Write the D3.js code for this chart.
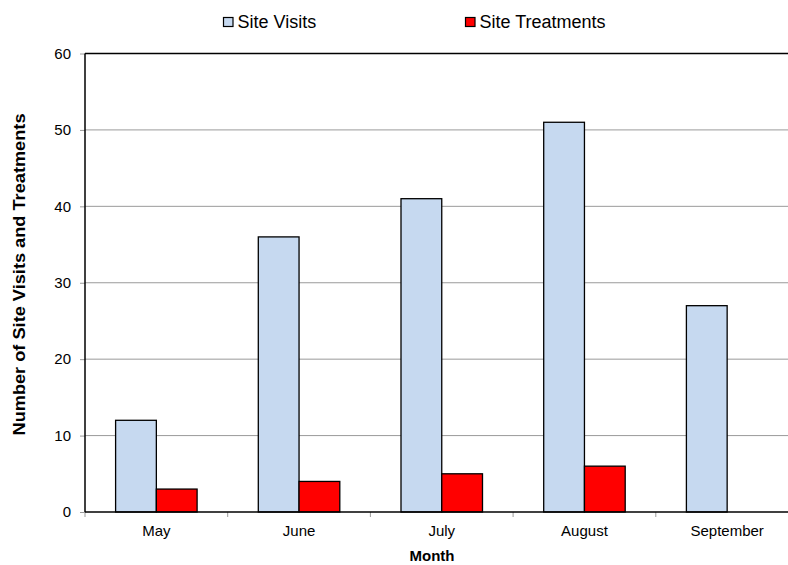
<!DOCTYPE html>
<html>
<head>
<meta charset="utf-8">
<script src="https://cdn.jsdelivr.net/npm/d3@7"></script>
<style>
  html, body { margin: 0; padding: 0; background: #fff; overflow: hidden; }
  svg { display: block; font-family: "Liberation Sans", Arial, sans-serif; }
</style>
</head>
<body>
<svg id="chart" width="788" height="565"></svg>
<script>
const months = ["May", "June", "July", "August", "September"];
const siteVisits = [12, 36, 41, 51, 27];
const siteTreatments = [3, 4, 5, 6, null];
const seriesNames = ["Site Visits", "Site Treatments"];
const seriesColors = ["#C6D9F0", "#FF0000"];
const yTicks = [0, 10, 20, 30, 40, 50, 60];

const svg = d3.select("#chart");
const plotLeft = 85, plotRight = 798.5, plotTop = 53.5, plotBottom = 512;

const x = d3.scaleBand().domain(months).range([plotLeft, plotRight]).paddingInner(0).paddingOuter(0);
const xs = d3.scaleBand().domain(seriesNames).range([30.6, 112.1]);
const y = d3.scaleLinear().domain([0, 60]).range([plotBottom, plotTop]);

// gridlines
svg.append("g").selectAll("line").data(yTicks.filter(t => t > 0 && t < 60)).join("line")
  .attr("x1", plotLeft).attr("x2", plotRight)
  .attr("y1", d => y(d)).attr("y2", d => y(d))
  .attr("stroke", "#9a9a9a").attr("stroke-width", 1);

// bars
const series = [siteVisits, siteTreatments];
series.forEach((vals, si) => {
  svg.append("g").selectAll("rect")
    .data(months.map((m, i) => ({ m, v: vals[i] })).filter(d => d.v != null && d.v > 0))
    .join("rect")
    .attr("x", d => x(d.m) + xs(seriesNames[si]))
    .attr("width", xs.bandwidth())
    .attr("y", d => y(d.v))
    .attr("height", d => y(0) - y(d.v))
    .attr("fill", seriesColors[si])
    .attr("stroke", "#000").attr("stroke-width", 1.3);
});

// top border
svg.append("line").attr("x1", plotLeft).attr("x2", plotRight)
  .attr("y1", plotTop).attr("y2", plotTop).attr("stroke", "#000").attr("stroke-width", 1.5);

// y axis
const yAxis = d3.axisLeft(y).tickValues(yTicks).tickSize(5).tickPadding(9).tickFormat(d3.format("d"));
const gy = svg.append("g").attr("transform", `translate(${plotLeft},0)`).call(yAxis);
gy.select(".domain").remove();
gy.selectAll(".tick line").attr("stroke", "#9a9a9a");
gy.selectAll(".tick text").attr("font-size", "15px").attr("fill", "#000")
  .attr("font-family", "Liberation Sans, Arial, sans-serif");

// x axis
const xAxis = d3.axisBottom(x).tickSize(0).tickPadding(13);
const gx = svg.append("g").attr("transform", `translate(0,${plotBottom})`).call(xAxis);
gx.select(".domain").remove();
gx.selectAll(".tick text").attr("font-size", "15px").attr("fill", "#000")
  .attr("font-family", "Liberation Sans, Arial, sans-serif");
// category boundary ticks
svg.append("g").selectAll("line").data(months).join("line")
  .attr("x1", d => x(d)).attr("x2", d => x(d))
  .attr("y1", plotBottom).attr("y2", plotBottom + 5)
  .attr("stroke", "#9a9a9a");

// axis lines
svg.append("line").attr("x1", plotLeft).attr("x2", plotLeft)
  .attr("y1", plotTop).attr("y2", plotBottom).attr("stroke", "#000").attr("stroke-width", 1.5);
svg.append("line").attr("x1", plotLeft).attr("x2", plotRight)
  .attr("y1", plotBottom).attr("y2", plotBottom).attr("stroke", "#000").attr("stroke-width", 1.5);

// axis titles
svg.append("text").attr("x", 432).attr("y", 561)
  .attr("text-anchor", "middle").attr("font-size", "15px").attr("font-weight", "bold")
  .text("Month");
svg.append("text")
  .attr("transform", "translate(25,274.5) rotate(-90)")
  .attr("text-anchor", "middle").attr("font-size", "16px").attr("font-weight", "bold")
  .attr("textLength", 322).attr("lengthAdjust", "spacingAndGlyphs")
  .text("Number of Site Visits and Treatments");

// legend
const legendX = [223.5, 465.5];
seriesNames.forEach((name, i) => {
  svg.append("rect").attr("x", legendX[i]).attr("y", 17.5).attr("width", 9.5).attr("height", 9)
    .attr("fill", seriesColors[i]).attr("stroke", "#000").attr("stroke-width", 1.2);
  svg.append("text").attr("x", legendX[i] + 14).attr("y", 27.5)
    .attr("font-size", "18px").attr("fill", "#000").text(name);
});
</script>
</body>
</html>
